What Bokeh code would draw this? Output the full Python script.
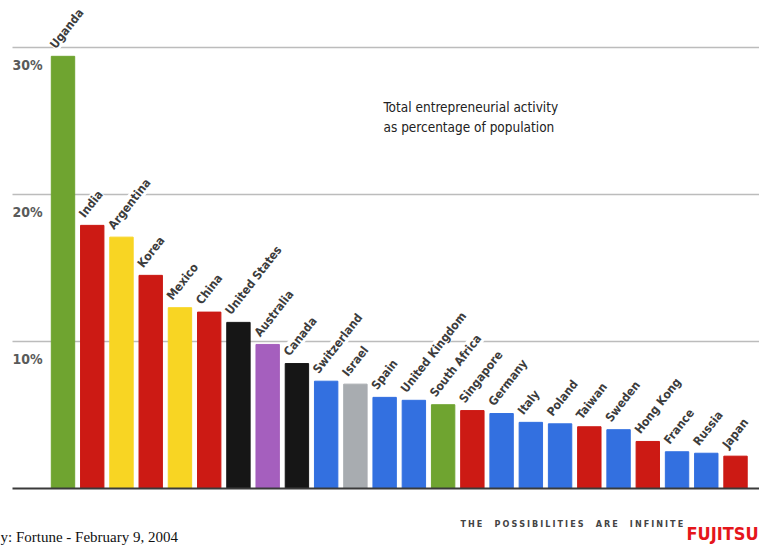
from bokeh.plotting import figure
from bokeh.models import ColumnDataSource, LabelSet, Label, Range1d
from bokeh.core.properties import value
from bokeh.embed import file_html
from bokeh.resources import INLINE

countries = ["Uganda", "India", "Argentina", "Korea", "Mexico", "China",
             "United States", "Australia", "Canada", "Switzerland", "Israel",
             "Spain", "United Kingdom", "South Africa", "Singapore", "Germany",
             "Italy", "Poland", "Taiwan", "Sweden", "Hong Kong", "France",
             "Russia", "Japan"]
activity = [29.4, 17.9, 17.1, 14.5, 12.3, 12.0, 11.3, 9.8, 8.5, 7.3, 7.1,
            6.2, 6.0, 5.7, 5.3, 5.1, 4.5, 4.4, 4.2, 4.0, 3.2, 2.5, 2.4, 2.2]
GREEN, RED, YELLOW, BLACK = "#6fa430", "#cc1a14", "#f8d523", "#161616"
PURPLE, BLUE, GRAY = "#a55fbe", "#3370e0", "#a8acb0"
bar_colors = [GREEN, RED, YELLOW, RED, YELLOW, RED, BLACK, PURPLE, BLACK,
              BLUE, GRAY, BLUE, BLUE, GREEN, RED, BLUE, BLUE, BLUE, RED,
              BLUE, RED, BLUE, BLUE, RED]
y_ticks = [10, 20, 30]
y_tick_labels = ["10%", "20%", "30%"]

title_lines = ["Total entrepreneurial activity", "as percentage of population"]
source_note = "y: Fortune - February 9, 2004"
tagline = "\u2002\u2002\u2002".join("\u2005".join(w) for w in "THE POSSIBILITIES ARE INFINITE".split())
brand = "FUJITSU"

W, H = 759, 545
PX_PER_BAR = 29.24
PX_PER_PCT = 14.7
X0 = -62.5 / PX_PER_BAR
Y0 = -(H - 488) / PX_PER_PCT
x_range = Range1d(X0, X0 + W / PX_PER_BAR)
y_range = Range1d(Y0, Y0 + H / PX_PER_PCT)

COND = "DejaVu Sans Condensed"

p = figure(width=W, height=H, x_range=x_range, y_range=y_range,
           output_backend="svg", toolbar_location=None, title=None,
           x_axis_location=None, y_axis_location=None, min_border=0,
           outline_line_color=None, background_fill_color="white",
           border_fill_color="white")
p.xgrid.visible = False
p.ygrid.visible = False

grid_x0 = X0 + 12 / PX_PER_BAR
grid_x1 = X0 + W / PX_PER_BAR
p.segment(x0=[grid_x0] * len(y_ticks), x1=[grid_x1] * len(y_ticks),
          y0=y_ticks, y1=y_ticks, line_color="#bcbcbc", line_width=1.6)

src = ColumnDataSource(dict(x=list(range(len(countries))), top=activity,
                            color=bar_colors, name=countries))
p.vbar(x="x", top="top", bottom=0, width=0.8, color="color", source=src)

# baseline
p.segment(x0=[grid_x0], x1=[grid_x1], y0=[0], y1=[0],
          line_color="#3a3a3a", line_width=2)

labels = LabelSet(x="x", y="top", text="name", source=src, angle=52,
                  angle_units="deg", x_offset=-5, y_offset=5,
                  text_align="left", text_baseline="bottom",
                  text_font=value(COND), text_font_style="bold",
                  text_font_size="12px", text_color="#3c3c3c",
                  background_fill_color="white", background_fill_alpha=1.0)
p.add_layout(labels)

tick_src = ColumnDataSource(dict(x=[grid_x0] * len(y_ticks), y=y_ticks,
                                 t=y_tick_labels))
ticks = LabelSet(x="x", y="y", text="t", source=tick_src, y_offset=-9,
                 text_align="left", text_baseline="top",
                 text_font=value(COND), text_font_style="bold",
                 text_font_size="14px", text_color="#5a5a5a")
p.add_layout(ticks)

for i, line in enumerate(title_lines):
    p.add_layout(Label(x=383, y=H - 106 - 20 * i, x_units="screen",
                       y_units="screen", text=line, text_baseline="middle",
                       text_font=COND, text_font_size="13.5px",
                       text_color="#222222"))

p.add_layout(Label(x=0, y=9, x_units="screen", y_units="screen",
                   text=source_note, text_baseline="alphabetic",
                   text_font="Liberation Serif", text_font_size="15px",
                   text_color="#111111"))
p.add_layout(Label(x=460, y=H - 523, x_units="screen", y_units="screen",
                   text=tagline, text_baseline="middle", text_font=COND,
                   text_font_style="bold", text_font_size="9px",
                   text_color="#444444"))
p.add_layout(Label(x=686, y=H - 533, x_units="screen", y_units="screen",
                   text=brand, text_baseline="alphabetic", text_font=COND,
                   text_font_style="bold", text_font_size="18px",
                   text_color="#e5161b"))

open("out.html", "w").write(file_html(p, INLINE))
